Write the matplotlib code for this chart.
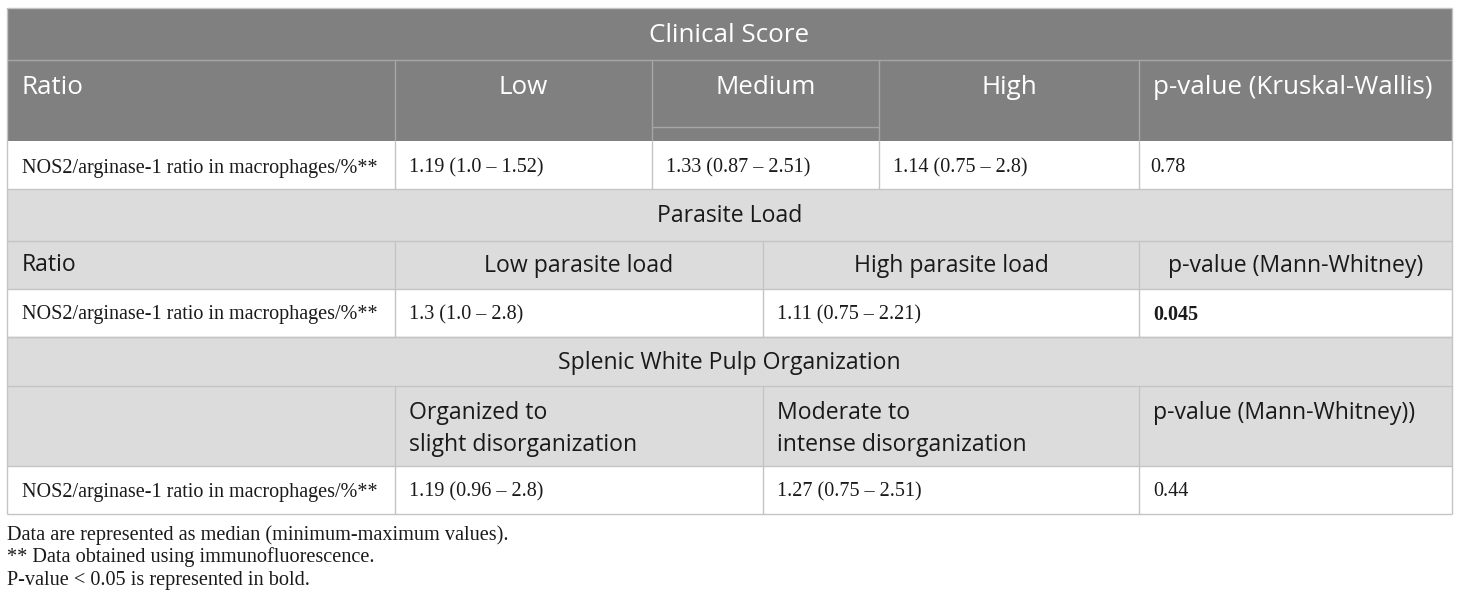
import matplotlib
matplotlib.use("Agg")
import matplotlib.pyplot as plt
from matplotlib.patches import Rectangle

# ---------------- data ----------------
row_label = "NOS2/arginase-1 ratio in macrophages/%**"

clinical_title = "Clinical Score"
clinical_groups = ["Low", "Medium", "High"]
clinical_median = [1.19, 1.33, 1.14]
clinical_min = [1.0, 0.87, 0.75]
clinical_max = [1.52, 2.51, 2.8]
clinical_p_label = "p-value (Kruskal-Wallis)"
clinical_p = 0.78

parasite_title = "Parasite Load"
parasite_groups = ["Low parasite load", "High parasite load"]
parasite_median = [1.3, 1.11]
parasite_min = [1.0, 0.75]
parasite_max = [2.8, 2.21]
parasite_p_label = "p-value (Mann-Whitney)"
parasite_p = 0.045

pulp_title = "Splenic White Pulp Organization"
pulp_groups = ["Organized to\nslight disorganization", "Moderate to\nintense disorganization"]
pulp_median = [1.19, 1.27]
pulp_min = [0.96, 0.75]
pulp_max = [2.8, 2.51]
pulp_p_label = "p-value (Mann-Whitney))"
pulp_p = 0.44

footnotes = [
    "Data are represented as median (minimum-maximum values).",
    "** Data obtained using immunofluorescence.",
    "P-value < 0.05 is represented in bold.",
]
alpha = 0.05

# ---------------- layout ----------------
W, H = 1460, 601
fig = plt.figure(figsize=(W / 100, H / 100), dpi=100)
ax = fig.add_axes([0, 0, 1, 1])
ax.set_xlim(0, W)
ax.set_ylim(H, 0)
ax.axis("off")

SANS = "Open Sans"
SERIF = "Liberation Serif"
DARK = "#7f807f"
LIGHT = "#dcdcdc"
LINE_DARK = "#a6a6a6"
LINE_LIGHT = "#c4c4c4"
TXT = "#1a1a1a"

L, R = 7, 1452
HS_TOP = 26.0 * 0.72  # dark header font size in pt
HS = 23.0 * 0.72      # light header font size in pt
BS = 20.2 * 0.72      # body font size
FS = 20.3 * 0.72      # footnote font size


def rect(x0, y0, x1, y1, color):
    ax.add_patch(Rectangle((x0, y0), x1 - x0, y1 - y0, facecolor=color, edgecolor="none"))


def hline(y, x0, x1, c):
    ax.plot([x0, x1], [y, y], color=c, lw=1.0, solid_capstyle="butt")


def vline(x, y0, y1, c):
    ax.plot([x, x], [y0, y1], color=c, lw=1.0, solid_capstyle="butt")


def fmt(m, lo, hi):
    return f"{m} ({lo} \u2013 {hi})"


# ---- Section 1: Clinical score ----
r = [8, 60, 141, 189]
cols1 = [L, 395, 652, 879, 1139, R]
rect(L, r[0], R, r[2], DARK)
rect(L, r[2], R, r[3], "white")
ax.text((L + R) / 2, 35, clinical_title, ha="center", va="center", color="white",
        fontsize=HS_TOP, family=SANS)
ax.text(22, 87, "Ratio", ha="left", va="center", color="white", fontsize=HS_TOP, family=SANS)
for i, g in enumerate(clinical_groups):
    ax.text((cols1[i + 1] + cols1[i + 2]) / 2, 87, g, ha="center", va="center",
            color="white", fontsize=HS_TOP, family=SANS)
ax.text((cols1[4] + cols1[5]) / 2 - 3, 87, clinical_p_label, ha="center", va="center",
        color="white", fontsize=HS_TOP, family=SANS)
ax.text(22, 168, row_label, ha="left", va="center", color=TXT, fontsize=BS, family=SERIF)
for i in range(3):
    ax.text(cols1[i + 1] + 14, 168, fmt(clinical_median[i], clinical_min[i], clinical_max[i]),
            ha="left", va="center", color=TXT, fontsize=BS, family=SERIF)
ax.text(cols1[4] + 11, 168, str(clinical_p), ha="left", va="center", color=TXT,
        fontsize=BS, family=SERIF, weight="bold" if clinical_p < alpha else "normal")
hline(r[1], L, R, LINE_DARK)
hline(127, cols1[2], cols1[3], LINE_DARK)
for x in cols1[1:-1]:
    vline(x, r[1], r[2], LINE_DARK)
    vline(x, r[2], r[3], LINE_LIGHT)

# ---- Section 2: Parasite load ----
r2 = [189, 241, 289, 337]
cols2 = [L, 395, 763, 1139, R]
rect(L, r2[0], R, r2[2], LIGHT)
rect(L, r2[2], R, r2[3], "white")
ax.text((L + R) / 2, 216, parasite_title, ha="center", va="center", color=TXT,
        fontsize=HS, family=SANS)
ax.text(22, 265, "Ratio", ha="left", va="center", color=TXT, fontsize=HS, family=SANS)
for i, g in enumerate(parasite_groups):
    ax.text((cols2[i + 1] + cols2[i + 2]) / 2, 266, g, ha="center", va="center",
            color=TXT, fontsize=HS, family=SANS)
ax.text((cols2[3] + cols2[4]) / 2, 266, parasite_p_label, ha="center", va="center",
        color=TXT, fontsize=HS, family=SANS)
ax.text(22, 315, row_label, ha="left", va="center", color=TXT, fontsize=BS, family=SERIF)
for i in range(2):
    ax.text(cols2[i + 1] + 14, 315, fmt(parasite_median[i], parasite_min[i], parasite_max[i]),
            ha="left", va="center", color=TXT, fontsize=BS, family=SERIF)
ax.text(cols2[3] + 14, 315, str(parasite_p), ha="left", va="center", color=TXT,
        fontsize=BS, family=SERIF, weight="bold" if parasite_p < alpha else "normal")
for y in r2:
    hline(y, L, R, LINE_LIGHT)
for x in cols2[1:-1]:
    vline(x, r2[1], r2[3], LINE_LIGHT)

# ---- Section 3: Splenic white pulp ----
r3 = [337, 386, 466, 514]
rect(L, r3[0], R, r3[2], LIGHT)
rect(L, r3[2], R, r3[3], "white")
ax.text((L + R) / 2, 363, pulp_title, ha="center", va="center", color=TXT,
        fontsize=HS, family=SANS)
for i, g in enumerate(pulp_groups):
    ax.text(cols2[i + 1] + 14, 401, g, ha="left", va="top", color=TXT,
            fontsize=HS, family=SANS, linespacing=1.42)
ax.text(cols2[3] + 14, 401, pulp_p_label, ha="left", va="top", color=TXT,
        fontsize=HS, family=SANS)
ax.text(22, 492, row_label, ha="left", va="center", color=TXT, fontsize=BS, family=SERIF)
for i in range(2):
    ax.text(cols2[i + 1] + 14, 492, fmt(pulp_median[i], pulp_min[i], pulp_max[i]),
            ha="left", va="center", color=TXT, fontsize=BS, family=SERIF)
ax.text(cols2[3] + 14, 492, str(pulp_p), ha="left", va="center", color=TXT,
        fontsize=BS, family=SERIF, weight="bold" if pulp_p < alpha else "normal")
for y in r3:
    hline(y, L, R, LINE_LIGHT)
for x in cols2[1:-1]:
    vline(x, r3[1], r3[3], LINE_LIGHT)

# outer border
vline(L, 8, 514, LINE_LIGHT)
vline(R, 8, 514, LINE_LIGHT)
hline(8, L, R, LINE_LIGHT)

# footnotes
for k, t in enumerate(footnotes):
    ax.text(7, 535 + 22.5 * k, t, ha="left", va="center", color=TXT, fontsize=FS, family=SERIF)

fig.savefig("out.png", dpi=100)
